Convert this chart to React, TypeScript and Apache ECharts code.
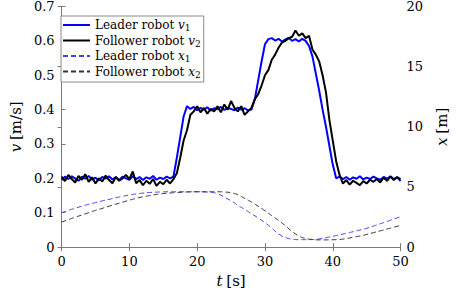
import React, { useEffect, useRef } from "react";
import * as echarts from "echarts";

// time step 0.5 s for velocities, 1 s for positions
const vTimes: number[] = Array.from({ length: 101 }, (_, i) => i * 0.5);
const xTimes: number[] = Array.from({ length: 51 }, (_, i) => i);

const leaderV: number[] = [
  0.195, 0.205, 0.198, 0.206, 0.200, 0.193, 0.205, 0.199, 0.207, 0.196,
  0.202, 0.194, 0.204, 0.199, 0.206, 0.197, 0.203, 0.195, 0.205, 0.200,
  0.196, 0.206, 0.198, 0.204, 0.195, 0.203, 0.199, 0.207, 0.196, 0.202,
  0.198, 0.205, 0.200, 0.205, 0.260, 0.320, 0.380, 0.410, 0.402, 0.408,
  0.398, 0.405, 0.400, 0.407, 0.397, 0.404, 0.401, 0.408, 0.399, 0.405,
  0.402, 0.398, 0.406, 0.400, 0.404, 0.398, 0.400, 0.430, 0.485, 0.540,
  0.590, 0.605, 0.608, 0.601, 0.606, 0.598, 0.604, 0.609, 0.600, 0.605,
  0.598, 0.606, 0.600, 0.585, 0.555, 0.505, 0.455, 0.400, 0.350, 0.295,
  0.240, 0.200, 0.205, 0.198, 0.204, 0.196, 0.203, 0.199, 0.206, 0.197,
  0.202, 0.198, 0.205, 0.200, 0.196, 0.204, 0.199, 0.206, 0.198, 0.203,
  0.192,
];

const followerV: number[] = [
  0.205, 0.192, 0.210, 0.198, 0.188, 0.207, 0.196, 0.212, 0.190, 0.203,
  0.185, 0.200, 0.191, 0.208, 0.195, 0.186, 0.204, 0.193, 0.200, 0.210,
  0.198, 0.220, 0.186, 0.195, 0.180, 0.193, 0.184, 0.198, 0.178, 0.190,
  0.183, 0.196, 0.185, 0.198, 0.215, 0.260, 0.310, 0.340, 0.385, 0.395,
  0.410, 0.392, 0.405, 0.388, 0.402, 0.395, 0.410, 0.392, 0.415, 0.400,
  0.425, 0.405, 0.395, 0.410, 0.385, 0.395, 0.405, 0.430, 0.445, 0.470,
  0.500, 0.515, 0.545, 0.560, 0.580, 0.595, 0.600, 0.608, 0.612, 0.630,
  0.615, 0.622, 0.608, 0.615, 0.575, 0.560, 0.540, 0.500, 0.450, 0.370,
  0.310, 0.250, 0.210, 0.185, 0.195, 0.182, 0.193, 0.187, 0.180, 0.192,
  0.185, 0.196, 0.190, 0.198, 0.188, 0.202, 0.193, 0.205, 0.195, 0.204,
  0.198,
];

const leaderX: number[] = [
  2.86, 3.05, 3.23, 3.40, 3.56, 3.70, 3.84, 3.97, 4.10, 4.22,
  4.33, 4.42, 4.49, 4.54, 4.57, 4.59, 4.60, 4.60, 4.60, 4.60,
  4.60, 4.59, 4.55, 4.45, 4.15, 3.85, 3.48, 3.13, 2.78, 2.42,
  2.03, 1.58, 1.10, 0.80, 0.66, 0.62, 0.62, 0.63, 0.68, 0.78,
  0.90, 1.02, 1.15, 1.28, 1.42, 1.56, 1.75, 1.94, 2.13, 2.33,
  2.53,
];

const followerX: number[] = [
  2.08, 2.28, 2.48, 2.67, 2.86, 3.05, 3.22, 3.40, 3.57, 3.73,
  3.90, 4.05, 4.18, 4.28, 4.38, 4.45, 4.50, 4.54, 4.57, 4.59,
  4.60, 4.60, 4.60, 4.60, 4.58, 4.52, 4.35, 4.05, 3.75, 3.40,
  3.02, 2.62, 2.22, 1.78, 1.30, 0.92, 0.72, 0.63, 0.60, 0.60,
  0.61, 0.64, 0.70, 0.82, 0.92, 1.05, 1.20, 1.35, 1.50, 1.65,
  1.81,
];

const legendLabels: Record<string, string> = {
  v1: "Leader robot {i|v}{s|1}",
  v2: "Follower robot {i|v}{s|2}",
  x1: "Leader robot {i|x}{s|1}",
  x2: "Follower robot {i|x}{s|2}",
};

const FONT = "DejaVu Serif";
const AXIS_COLOR = "#7a7a7a";

export default function App() {
  const ref = useRef<HTMLDivElement>(null);
  useEffect(() => {
    if (!ref.current) return;
    const chart = echarts.init(ref.current, null, { renderer: "svg" });
    const pair = (ts: number[], vs: number[]) => ts.map((t, i) => [t, vs[i]]);
    const axisLine = { show: true, lineStyle: { color: AXIS_COLOR, width: 1 } };
    const labelStyle = { color: "#000", fontFamily: FONT, fontSize: 13 };
    const nameRich = {
      i: { fontStyle: "italic", fontFamily: FONT, fontSize: 15, color: "#000" },
      n: { fontFamily: FONT, fontSize: 15, color: "#000" },
    };
    chart.setOption({
      animation: false,
      backgroundColor: "#fff",
      textStyle: { fontFamily: FONT },
      grid: { left: 50, right: 48, top: 5, bottom: 45, containLabel: false },
      legend: {
        orient: "vertical",
        left: 61,
        top: 16,
        padding: [3, 3, 3, 1],
        itemGap: 2,
        itemWidth: 27,
        itemHeight: 14,
        borderColor: "#8a8a8a",
        borderWidth: 1,
        backgroundColor: "#fff",
        itemStyle: { opacity: 0 },
        data: ["v1", "v2", "x1", "x2"],
        formatter: (name: string) => legendLabels[name],
        textStyle: {
          fontFamily: FONT,
          fontSize: 12,
          color: "#000",
          rich: {
            i: { fontStyle: "italic", fontFamily: FONT, fontSize: 12, color: "#000" },
            s: { fontFamily: FONT, fontSize: 9, color: "#000", verticalAlign: "bottom", padding: [6, 0, 0, 0] },
          },
        },
      },
      xAxis: [
        {
          type: "value",
          min: 0,
          max: 50,
          interval: 10,
          position: "bottom",
          axisLine,
          axisTick: { show: true, inside: true, length: 4, lineStyle: { color: AXIS_COLOR } },
          axisLabel: { ...labelStyle, margin: 8 },
          splitLine: { show: false },
          name: "{i|t} {n|[s]}",
          nameLocation: "middle",
          nameGap: 25,
          nameTextStyle: { fontFamily: FONT, rich: nameRich },
        },
        {
          type: "value",
          min: 0,
          max: 50,
          interval: 10,
          position: "top",
          axisLine,
          axisTick: { show: true, inside: true, length: 4, lineStyle: { color: AXIS_COLOR } },
          axisLabel: { show: false },
          splitLine: { show: false },
        },
      ],
      yAxis: [
        {
          type: "value",
          min: 0,
          max: 0.7,
          interval: 0.1,
          position: "left",
          axisLine,
          axisTick: { show: true, inside: true, length: 4, lineStyle: { color: AXIS_COLOR } },
          axisLabel: { ...labelStyle, margin: 7 },
          splitLine: { show: false },
          name: "{i|v} {n|[m/s]}",
          nameLocation: "middle",
          nameRotate: 90,
          nameGap: 33,
          nameTextStyle: { fontFamily: FONT, rich: nameRich },
        },
        {
          type: "value",
          min: 0,
          max: 20,
          interval: 5,
          position: "right",
          axisLine,
          axisTick: { show: true, inside: true, length: 4, lineStyle: { color: AXIS_COLOR } },
          axisLabel: { ...labelStyle, margin: 6 },
          splitLine: { show: false },
          name: "{i|x} {n|[m]}",
          nameLocation: "middle",
          nameRotate: 90,
          nameGap: 29,
          nameTextStyle: { fontFamily: FONT, rich: nameRich },
        },
      ],
      series: [
        {
          name: "x1",
          type: "line",
          yAxisIndex: 1,
          data: pair(xTimes, leaderX),
          symbol: "none",
          smooth: true,
          lineStyle: { color: "#4040ff", width: 1, type: [5, 3] },
          itemStyle: { color: "#4040ff" },
          z: 2,
        },
        {
          name: "x2",
          type: "line",
          yAxisIndex: 1,
          data: pair(xTimes, followerX),
          symbol: "none",
          smooth: true,
          lineStyle: { color: "#333", width: 1, type: [5, 3] },
          itemStyle: { color: "#333" },
          z: 2,
        },
        {
          name: "v1",
          type: "line",
          yAxisIndex: 0,
          data: pair(vTimes, leaderV),
          symbol: "none",
          lineStyle: { color: "#0000ff", width: 2 },
          itemStyle: { color: "#0000ff" },
          z: 3,
        },
        {
          name: "v2",
          type: "line",
          yAxisIndex: 0,
          data: pair(vTimes, followerV),
          symbol: "none",
          lineStyle: { color: "#000", width: 2 },
          itemStyle: { color: "#000" },
          z: 4,
        },
      ],
    });
    return () => chart.dispose();
  }, []);
  return <div ref={ref} style={{ width: 457, height: 293, position: "absolute", left: 0, top: 0 }} />;
}
